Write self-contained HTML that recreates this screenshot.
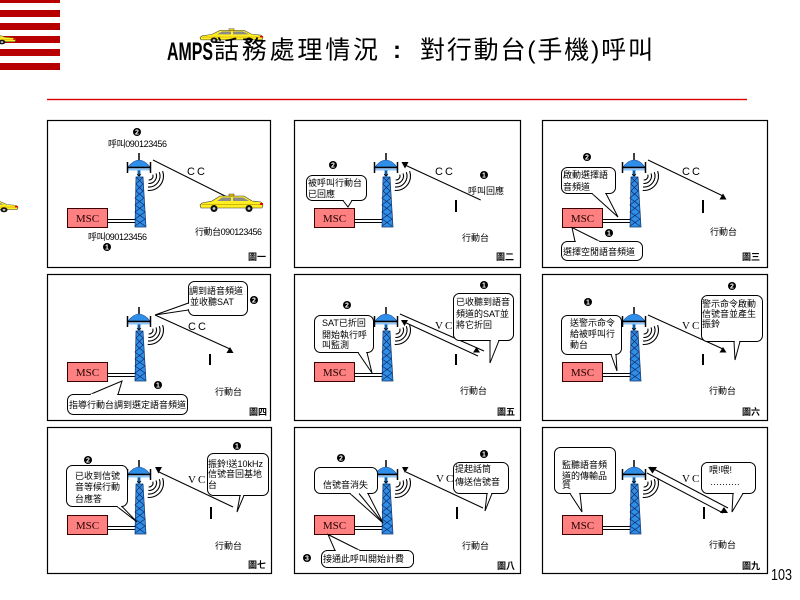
<!DOCTYPE html>
<html><head><meta charset="utf-8"><style>
html,body{margin:0;padding:0;background:#fff;}
svg{display:block;}
text{font-family:"Liberation Sans","Noto Sans CJK TC",sans-serif;fill:#000;}
.t{font-size:9px;}
.b{font-size:9px;font-weight:bold;}
.cc{font-size:11px;letter-spacing:2px;}
.vc{font-family:"Liberation Serif",serif;font-size:11px;letter-spacing:2px;}
.ln{stroke:#000;stroke-width:1;fill:none;}
.co{fill:#fff;stroke:#000;stroke-width:1;}
</style></head><body>
<svg width="800" height="600" viewBox="0 0 800 600" xmlns="http://www.w3.org/2000/svg">
<defs>
<g id="car">
  <path d="M2,10 L12,8 L20,3 L44,3 L52,8 L61,9 L63,12 L62,15 L1,15 L0,12 Z" fill="#ffee22" stroke="#333" stroke-width="0.6"/>
  <polygon points="22,4.5 31,4.5 31,8 17,8" fill="#8a8a8a"/>
  <polygon points="33,4.5 43,4.5 49,8 33,8" fill="#8a8a8a"/>
  <rect x="29" y="1" width="5" height="2" fill="#ffcc00" stroke="#333" stroke-width="0.5"/>
  <line x1="2" y1="11.5" x2="62" y2="11.5" stroke="#c9a000" stroke-width="0.8"/>
  <rect x="60" y="10" width="3" height="2" fill="#e00"/>
  <circle cx="14" cy="15.5" r="3.5" fill="#111"/><circle cx="14" cy="15.5" r="1.4" fill="#ccc"/>
  <circle cx="49" cy="15.5" r="3.5" fill="#111"/><circle cx="49" cy="15.5" r="1.4" fill="#ccc"/>
</g>
<g id="n1"><circle r="4" fill="#000"/><text y="2.5" text-anchor="middle" font-size="7" font-weight="bold" style="fill:#fff">1</text></g>
<g id="n2"><circle r="4" fill="#000"/><text y="2.5" text-anchor="middle" font-size="7" font-weight="bold" style="fill:#fff">2</text></g>
<g id="n3"><circle r="4" fill="#000"/><text y="2.5" text-anchor="middle" font-size="7" font-weight="bold" style="fill:#fff">3</text></g>
<g id="base">
  <rect x="20.5" y="88.5" width="40" height="19" fill="#ff8080" stroke="#3a0000" stroke-width="1"/>
  <text x="40.5" y="102" text-anchor="middle" style="font-family:'Liberation Serif',serif;font-size:11px;fill:#200;">MSC</text>
  <line x1="60.5" y1="99.5" x2="89" y2="99.5" stroke="#000"/>
  <line x1="60.5" y1="102.5" x2="89" y2="102.5" stroke="#000"/>
  <polygon points="89,57 96,57 99,107 88,107" fill="#2f8fe8" stroke="#12306a" stroke-width="0.7"/>
  <polyline points="89,57 96,64 89,71 97,78 88,85 98,92 88,99 98,106" fill="none" stroke="#102a60" stroke-width="0.7"/>
  <polyline points="96,57 89,64 96,71 88,78 97,85 88,92 98,99 88,106" fill="none" stroke="#102a60" stroke-width="0.7"/>
  <line x1="92" y1="33" x2="92" y2="41" stroke="#000" stroke-width="1.5"/>
  <path d="M81,47 Q92,33 103,47 Z" fill="#2f8fe8" stroke="#1a4a9a" stroke-width="0.6"/>
  <line x1="80" y1="47.5" x2="104" y2="47.5" stroke="#000" stroke-width="1.5"/>
  <line x1="81" y1="49.5" x2="103" y2="49.5" stroke="#8cc6ff" stroke-width="2"/>
  <line x1="80.5" y1="42" x2="80.5" y2="53" stroke="#000" stroke-width="1.5"/>
  <line x1="103.5" y1="42" x2="103.5" y2="53" stroke="#000" stroke-width="1.5"/>
  <rect x="90.5" y="50" width="3" height="7" fill="#2f8fe8"/>
  <path d="M92,51 L92,56 M90,54 L92,56 L94,54" stroke="#000" stroke-width="0.8" fill="none"/>
  <g fill="none" stroke="#000" stroke-width="1.1">
    <path d="M105.76,54.63 A4,4 0 0 1 101.65,59.98"/>
    <path d="M109.05,53.43 A7.5,7.5 0 0 1 101.35,63.47"/>
    <path d="M112.34,52.24 A11,11 0 0 1 101.04,66.96"/>
    <path d="M115.63,51.04 A14.5,14.5 0 0 1 100.74,70.44"/>
  </g>
</g>
</defs>

<rect width="800" height="600" fill="#fff"/>

<!-- stripes -->
<g fill="#b80000">
  <rect x="0" y="0" width="60" height="3"/>
  <rect x="0" y="10" width="60" height="7"/>
  <rect x="0" y="23" width="60" height="7"/>
  <rect x="0" y="36" width="60" height="7"/>
  <rect x="0" y="49" width="60" height="7"/>
  <rect x="0" y="63" width="60" height="7"/>
</g>
<use href="#car" transform="translate(-47,32) scale(1,0.65)"/>
<use href="#car" transform="translate(-45,199) scale(1,0.7)"/>

<!-- title -->
<use href="#car" transform="translate(200,28) scale(1,0.79)"/>
<text x="167" y="60" font-size="25" font-weight="bold" textLength="46" lengthAdjust="spacingAndGlyphs">AMPS</text>
<text x="214" y="58.5" font-size="25" textLength="164">話務處理情況</text>
<text x="393" y="58" font-size="24" font-weight="bold">:</text>
<text x="420" y="58.5" font-size="25" textLength="233">對行動台(手機)呼叫</text>
<rect x="47" y="98.8" width="700" height="1.4" fill="#dd0000"/>

<!-- panel borders -->
<g fill="none" stroke="#000" stroke-width="1.2">
  <rect x="47.5" y="120.5" width="223" height="147"/>
  <rect x="294.5" y="120.5" width="226" height="147"/>
  <rect x="542.5" y="120.5" width="225" height="147"/>
  <rect x="47.5" y="274.5" width="223" height="146"/>
  <rect x="294.5" y="274.5" width="226" height="146"/>
  <rect x="542.5" y="274.5" width="225" height="146"/>
  <rect x="47.5" y="427.5" width="224" height="146"/>
  <rect x="294.5" y="427.5" width="226" height="146"/>
  <rect x="542.5" y="427.5" width="225" height="146"/>
</g>

<!-- Panel 1 -->
<g transform="translate(47,120)">
  <use href="#base"/>
  <use href="#n2" x="90" y="12"/>
  <text class="t" x="61" y="27" textLength="59">呼叫090123456</text>
  <line class="ln" x1="106" y1="40" x2="180" y2="77"/>
  <text class="cc" x="140" y="55">CC</text>
  <use href="#car" transform="translate(153,73)"/>
  <text class="t" x="148" y="115" textLength="67">行動台090123456</text>
  <text class="t" x="41" y="120" textLength="59">呼叫090123456</text>
  <use href="#n1" x="60" y="127"/>
  <text class="b" x="201" y="140">圖一</text>
</g>

<!-- Panel 2 -->
<g transform="translate(294,120)">
  <use href="#base"/>
  <line class="ln" x1="186.7" y1="80" x2="111" y2="45"/>
  <polygon points="107.5,42 114.5,42 111,48.5" fill="#000"/>
  <text class="cc" x="141" y="55">CC</text>
  <use href="#n1" x="190" y="55"/>
  <text class="t" x="174" y="74">呼叫回應</text>
  <use href="#n2" x="39" y="45"/>
  <rect class="co" x="12.5" y="55.5" width="60" height="25" rx="6"/>
  <polygon class="co" points="49,80.5 58,80.5 54,87"/>
  <line x1="49.8" y1="80.5" x2="57.2" y2="80.5" stroke="#fff" stroke-width="1.6"/>
  <text class="t" x="14" y="66">被呼叫行動台</text>
  <text class="t" x="14" y="77">已回應</text>
  <rect x="161" y="80" width="2" height="12" fill="#000"/>
  <text class="t" x="168" y="121">行動台</text>
  <text class="b" x="202" y="140">圖二</text>
</g>

<!-- Panel 3 -->
<g transform="translate(542,120)">
  <use href="#base"/>
  <line class="ln" x1="106" y1="40" x2="181" y2="76"/>
  <polygon points="177.5,79.5 184.5,79.5 181,73.5" fill="#000"/>
  <text class="cc" x="140" y="55">CC</text>
  <rect x="160" y="80" width="2" height="13" fill="#000"/>
  <text class="t" x="168" y="115">行動台</text>
  <use href="#n2" x="45" y="37"/>
  <rect class="co" x="19.5" y="47.5" width="54" height="26" rx="6"/>
  <polygon class="co" points="50,73.5 64,73.5 76,97"/>
  <line x1="50.8" y1="73.5" x2="63.2" y2="73.5" stroke="#fff" stroke-width="1.6"/>
  <text class="t" x="21" y="58">啟動選擇語</text>
  <text class="t" x="21" y="70">音頻道</text>
  <use href="#n1" x="67" y="113"/>
  <rect class="co" x="19.5" y="121.5" width="81" height="19" rx="6"/>
  <polygon class="co" points="33,121.5 58,121.5 30,107.5"/>
  <line x1="33.8" y1="121.5" x2="57.2" y2="121.5" stroke="#fff" stroke-width="1.6"/>
  <text class="t" x="21" y="135">選擇空閒語音頻道</text>
  <text class="b" x="200" y="140">圖三</text>
</g>

<!-- Panel 4 -->
<g transform="translate(47,274)">
  <use href="#base"/>
  <line class="ln" x1="108" y1="41" x2="183" y2="75"/>
  <polygon points="179.5,79 186.5,79 183,73" fill="#000"/>
  <text class="cc" x="141" y="56">CC</text>
  <rect x="162" y="80" width="2" height="11" fill="#000"/>
  <text class="t" x="168" y="121">行動台</text>
  <rect class="co" x="141.5" y="7.5" width="59" height="34" rx="6"/>
  <polygon class="co" points="141.5,29 141.5,36 108,41"/>
  <line x1="141.5" y1="29.8" x2="141.5" y2="35.2" stroke="#fff" stroke-width="1.6"/>
  <text class="t" x="142" y="20">調到語音頻道</text>
  <text class="t" x="143" y="31">並收聽SAT</text>
  <use href="#n2" x="207" y="26"/>
  <use href="#n1" x="111" y="111"/>
  <rect class="co" x="20.5" y="120.5" width="120" height="20" rx="6"/>
  <polygon class="co" points="43,120.5 71,120.5 75,107"/>
  <line x1="43.8" y1="120.5" x2="70.2" y2="120.5" stroke="#fff" stroke-width="1.6"/>
  <text class="t" x="22" y="134">指導行動台調到選定語音頻道</text>
  <text class="b" x="202" y="141">圖四</text>
</g>

<!-- Panel 5 -->
<g transform="translate(294,274)">
  <use href="#base"/>
  <line class="ln" x1="106" y1="40" x2="190" y2="77"/>
  <line class="ln" x1="108" y1="47" x2="184" y2="82"/>
  <polygon points="107,46 114,46 110.5,52" fill="#000"/>
  <polygon points="179,78.5 186,78.5 182.5,73" fill="#000"/>
  <text class="vc" x="141" y="55">VC</text>
  <rect x="161" y="80" width="2" height="11" fill="#000"/>
  <text class="t" x="166" y="120">行動台</text>
  <use href="#n1" x="190" y="11"/>
  <rect class="co" x="159.5" y="19.5" width="60" height="47" rx="6"/>
  <polygon class="co" points="196,66.5 205,66.5 196,89"/>
  <line x1="196.8" y1="66.5" x2="204.2" y2="66.5" stroke="#fff" stroke-width="1.6"/>
  <text class="t" x="162" y="31">已收聽到語音</text>
  <text class="t" x="162" y="43">頻道的SAT並</text>
  <text class="t" x="162" y="54">將它折回</text>
  <use href="#n2" x="53" y="31"/>
  <rect class="co" x="20.5" y="41.5" width="59" height="37" rx="6"/>
  <polygon class="co" points="64,78.5 73,78.5 78,99"/>
  <line x1="64.8" y1="78.5" x2="72.2" y2="78.5" stroke="#fff" stroke-width="1.6"/>
  <text class="t" x="28" y="52">SAT已折回</text>
  <text class="t" x="28" y="64">開始執行呼</text>
  <text class="t" x="28" y="74">叫監測</text>
  <text class="b" x="203" y="141">圖五</text>
</g>

<!-- Panel 6 -->
<g transform="translate(542,274)">
  <use href="#base"/>
  <line class="ln" x1="106" y1="41" x2="181" y2="75"/>
  <polygon points="177.5,78.5 184.5,78.5 181,73" fill="#000"/>
  <text class="vc" x="140" y="55">VC</text>
  <rect x="160" y="80" width="2" height="11" fill="#000"/>
  <text class="t" x="167" y="120">行動台</text>
  <use href="#n2" x="190" y="12"/>
  <rect class="co" x="159.5" y="21.5" width="61" height="46" rx="6"/>
  <polygon class="co" points="192,67.5 198,67.5 193,86"/>
  <line x1="192.8" y1="67.5" x2="197.2" y2="67.5" stroke="#fff" stroke-width="1.6"/>
  <text class="t" x="160" y="33">警示命令啟動</text>
  <text class="t" x="160" y="43">信號音並產生</text>
  <text class="t" x="160" y="53">振鈴</text>
  <use href="#n1" x="46" y="28"/>
  <rect class="co" x="19.5" y="41.5" width="60" height="39" rx="6"/>
  <polygon class="co" points="69,80.5 74,80.5 75,97"/>
  <line x1="69.8" y1="80.5" x2="73.2" y2="80.5" stroke="#fff" stroke-width="1.6"/>
  <text class="t" x="28" y="52">送警示命令</text>
  <text class="t" x="28" y="63">給被呼叫行</text>
  <text class="t" x="28" y="74">動台</text>
  <text class="b" x="200" y="141">圖六</text>
</g>

<!-- Panel 7 -->
<g transform="translate(47,427)">
  <use href="#base"/>
  <line class="ln" x1="186" y1="80" x2="112" y2="45"/>
  <polygon points="108,40 115,40 111.5,46.5" fill="#000"/>
  <text class="vc" x="141" y="56">VC</text>
  <rect x="163" y="80" width="2" height="12" fill="#000"/>
  <text class="t" x="168" y="122">行動台</text>
  <use href="#n1" x="190" y="19"/>
  <rect class="co" x="160.5" y="26.5" width="61" height="42" rx="6"/>
  <polygon class="co" points="193,68.5 197,68.5 190,85"/>
  <line x1="193.8" y1="68.5" x2="196.2" y2="68.5" stroke="#fff" stroke-width="1.6"/>
  <text class="t" x="161" y="40">振鈴!送10kHz</text>
  <text class="t" x="161" y="50">信號音回基地</text>
  <text class="t" x="161" y="61">台</text>
  <use href="#n2" x="41" y="33"/>
  <rect class="co" x="19.5" y="38.5" width="61" height="41" rx="6"/>
  <polygon class="co" points="70,79.5 75,79.5 90,95"/>
  <line x1="70.8" y1="79.5" x2="74.2" y2="79.5" stroke="#fff" stroke-width="1.6"/>
  <text class="t" x="28" y="52">已收到信號</text>
  <text class="t" x="28" y="63">音等候行動</text>
  <text class="t" x="28" y="75">台應答</text>
  <text class="b" x="201" y="141">圖七</text>
</g>

<!-- Panel 8 -->
<g transform="translate(294,427)">
  <use href="#base"/>
  <line class="ln" x1="189" y1="81" x2="112" y2="45"/>
  <polygon points="108,40 114.5,40 111,46" fill="#000"/>
  <text class="vc" x="142" y="55">VC</text>
  <rect x="162" y="80" width="2" height="12" fill="#000"/>
  <text class="t" x="168" y="122">行動台</text>
  <use href="#n1" x="190" y="27"/>
  <rect class="co" x="159.5" y="35.5" width="55" height="31" rx="6"/>
  <polygon class="co" points="193,66.5 198,66.5 191,84"/>
  <line x1="193.8" y1="66.5" x2="197.2" y2="66.5" stroke="#fff" stroke-width="1.6"/>
  <text class="t" x="161" y="45">提起話筒</text>
  <text class="t" x="161" y="58">傳送信號音</text>
  <use href="#n2" x="47" y="31"/>
  <rect class="co" x="20.5" y="40.5" width="63" height="26" rx="6"/>
  <polygon class="co" points="56,66.5 74,66.5 89,96"/>
  <line x1="56.8" y1="66.5" x2="73.2" y2="66.5" stroke="#fff" stroke-width="1.6"/>
  <line class="ln" x1="65" y1="66.5" x2="89" y2="96"/>
  <text class="t" x="29" y="61">信號音消失</text>
  <use href="#n3" x="13" y="131"/>
  <rect class="co" x="27.5" y="123.5" width="92" height="17" rx="6"/>
  <polygon class="co" points="41,123.5 66,123.5 34,107.5"/>
  <line x1="41.8" y1="123.5" x2="65.2" y2="123.5" stroke="#fff" stroke-width="1.6"/>
  <text class="t" x="29" y="135">接通此呼叫開始計費</text>
  <text class="b" x="203" y="142">圖八</text>
</g>

<!-- Panel 9 -->
<g transform="translate(542,427)">
  <use href="#base"/>
  <line class="ln" x1="108" y1="40" x2="186" y2="81"/>
  <line class="ln" x1="105" y1="46" x2="181" y2="86"/>
  <polygon points="106,40 115,40 110.5,46.5" fill="#000"/>
  <polygon points="178,86 186,86 182,80" fill="#000"/>
  <text class="vc" x="140" y="55">VC</text>
  <rect x="161" y="80" width="2" height="12" fill="#000"/>
  <text class="t" x="167" y="121">行動台</text>
  <rect class="co" x="12.5" y="20.5" width="61" height="46" rx="6"/>
  <polygon class="co" points="28,66.5 38,66.5 40,85"/>
  <line x1="28.8" y1="66.5" x2="37.2" y2="66.5" stroke="#fff" stroke-width="1.6"/>
  <text class="t" x="20" y="41">監聽語音頻</text>
  <text class="t" x="20" y="52">道的傳輸品</text>
  <text class="t" x="20" y="61">質</text>
  <rect class="co" x="159.5" y="35.5" width="54" height="31" rx="6"/>
  <polygon class="co" points="191,66.5 201,66.5 190,85"/>
  <line x1="191.8" y1="66.5" x2="200.2" y2="66.5" stroke="#fff" stroke-width="1.6"/>
  <text class="t" x="167" y="46">喂!喂!</text>
  <text class="t" x="168" y="58">……….</text>
  <text class="b" x="200" y="142">圖九</text>
</g>

<text x="771" y="580" font-size="16" textLength="21" lengthAdjust="spacingAndGlyphs">103</text>
</svg>
</body></html>
